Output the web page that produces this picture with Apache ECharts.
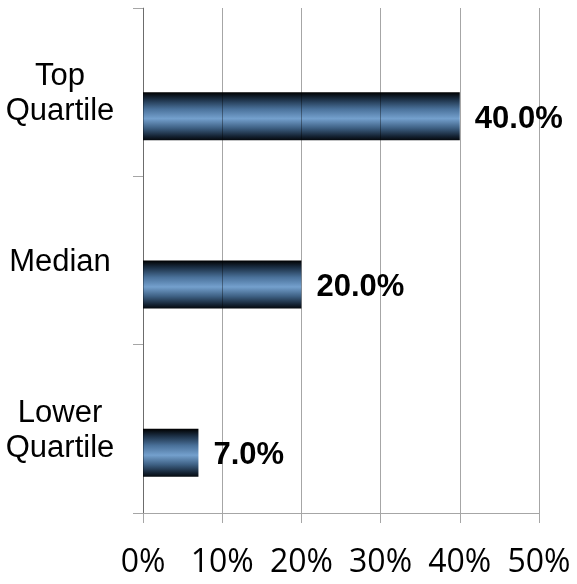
<!DOCTYPE html>
<html>
<head>
<meta charset="utf-8">
<script src="https://cdn.jsdelivr.net/npm/echarts@6/dist/echarts.min.js"></script>
<style>
  html, body { margin: 0; padding: 0; background: #fff; }
  #chart { width: 577px; height: 584px; }
</style>
</head>
<body>
<div id="chart"></div>
<script>
// Quartile shares, listed bottom to top as the category axis draws them
const categories = ['Lower\nQuartile', 'Median', 'Top\nQuartile'];
const shareValues = [7.0, 20.0, 40.0];
// an empty companion series keeps the bars in the lower half of each band
const spacerValues = [null, null, null];
const xTicks = { min: 0, max: 50, interval: 10 };

const chart = echarts.init(document.getElementById('chart'));

const barFill = new echarts.graphic.LinearGradient(0, 0, 0, 1, [
  { offset: 0.00, color: '#000000' },
  { offset: 0.15, color: '#1c3046' },
  { offset: 0.35, color: '#4a719a' },
  { offset: 0.55, color: '#74a0cd' },
  { offset: 0.75, color: '#3d5f82' },
  { offset: 0.92, color: '#142232' },
  { offset: 1.00, color: '#05090e' }
]);

chart.setOption({
  animation: false,
  grid: { left: 143, right: 38, top: 8, bottom: 71, containLabel: false },
  xAxis: {
    type: 'value',
    min: xTicks.min, max: xTicks.max, interval: xTicks.interval,
    z: 3,
    axisLine: { show: true, lineStyle: { color: '#a6a6a6', width: 1 } },
    axisTick: { show: true, length: 10, lineStyle: { color: '#a6a6a6' } },
    splitLine: { show: true, lineStyle: { color: 'rgba(0,0,0,0.35)', width: 1 } },
    axisLabel: {
      formatter: v => v + '%',
      fontFamily: 'Open Sans',
      fontSize: 32,
      lineHeight: 32,
      color: '#000',
      margin: 34
    }
  },
  yAxis: {
    type: 'category',
    data: categories,
    axisLine: { show: true, lineStyle: { color: '#a6a6a6', width: 1 } },
    axisTick: { show: true, length: 10, lineStyle: { color: '#a6a6a6' } },
    axisLabel: {
      formatter: v => v.split('\n').map(s => '{c|' + s + '}').join('\n'),
      color: '#000',
      align: 'center',
      margin: 83,
      rich: {
        c: {
          fontFamily: 'Liberation Sans',
          fontSize: 31,
          lineHeight: 35,
          padding: [4, 0, 0, 0],
          color: '#000'
        }
      }
    }
  },
  series: [
    {
      type: 'bar',
      data: spacerValues,
      barWidth: 48,
      barGap: '0%',
      silent: true
    },
    {
      type: 'bar',
      data: shareValues,
      barWidth: 48,
      barGap: '0%',
      itemStyle: { color: barFill },
      label: {
        show: true,
        position: 'right',
        distance: 15,
        offset: [0, 3],
        formatter: p => p.value.toFixed(1) + '%',
        fontFamily: 'Liberation Sans',
        fontWeight: 'bold',
        fontSize: 31,
        color: '#000'
      }
    }
  ]
});
</script>
</body>
</html>
